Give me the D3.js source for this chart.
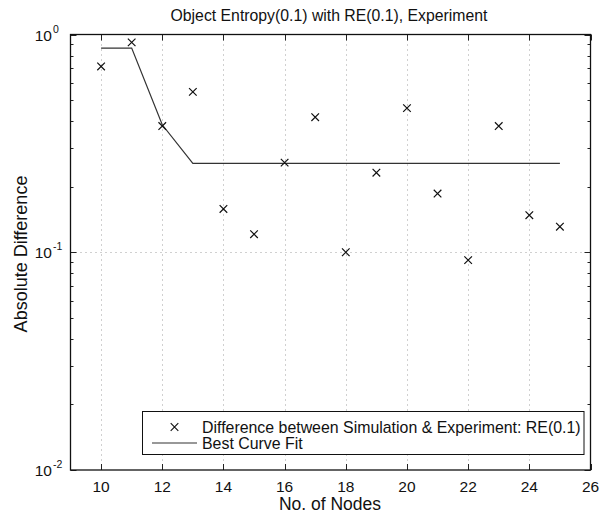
<!DOCTYPE html>
<html><head><meta charset="utf-8">
<script src="https://cdn.jsdelivr.net/npm/d3@7"></script>
<style>body{margin:0;background:#fff;} text{font-family:"Liberation Sans",Arial,sans-serif;fill:#111;}</style>
</head><body>
<svg id="c" width="612" height="514"></svg>
<script>
const nodes = [10,11,12,13,14,15,16,17,18,19,20,21,22,23,24,25];
const diffValues = [0.713,0.92,0.38,0.545,0.158,0.121,0.258,0.417,0.100,0.232,0.459,0.186,0.092,0.38,0.148,0.131];
const fitNodes = [10,11,12,13,25];
const fitValues = [0.866,0.866,0.385,0.256,0.256];
const xTicks = [10,12,14,16,18,20,22,24,26];
const yTicks = [1e-2,1e-1,1];
const yExp = ["-2","-1","0"];
const titleText = "Object Entropy(0.1) with RE(0.1), Experiment";
const legendLabels = ["Difference between Simulation & Experiment: RE(0.1)","Best Curve Fit"];

const L=70.5,R=590.5,T=34.5,B=470;
const svg=d3.select("#c");
const x=d3.scaleLinear().domain([9,26]).range([L,R]);
const y=d3.scaleLog().domain([0.01,1]).range([B,T]);

// grid
const g=svg.append("g");
g.selectAll(".gx").data(xTicks.filter(t=>t>9&&t<26)).join("line")
 .attr("x1",d=>Math.round(x(d))+0.5).attr("x2",d=>Math.round(x(d))+0.5).attr("y1",T).attr("y2",B)
 .attr("stroke","#888").attr("stroke-width",0.8).attr("stroke-dasharray","1,4");
g.selectAll(".gy").data(yTicks.filter(t=>t>0.01&&t<1)).join("line")
 .attr("y1",d=>Math.round(y(d))+0.5).attr("y2",d=>Math.round(y(d))+0.5).attr("x1",L).attr("x2",R)
 .attr("stroke","#888").attr("stroke-width",0.8).attr("stroke-dasharray","1,4");

// minor ticks
const minors=[];
[0.01,0.1].forEach(b=>{for(let k=2;k<=9;k++)minors.push(b*k);});
minors.forEach(m=>{
  const yy=Math.round(y(m))+0.5;
  svg.append("line").attr("x1",L).attr("x2",L+3).attr("y1",yy).attr("y2",yy).attr("stroke","#222");
  svg.append("line").attr("x1",R).attr("x2",R-3).attr("y1",yy).attr("y2",yy).attr("stroke","#222");
});
yTicks.forEach(t=>{
  const yy=Math.round(y(t))+0.5;
  svg.append("line").attr("x1",L).attr("x2",L+6).attr("y1",yy).attr("y2",yy).attr("stroke","#222");
  svg.append("line").attr("x1",R).attr("x2",R-6).attr("y1",yy).attr("y2",yy).attr("stroke","#222");
});
xTicks.forEach(t=>{
  const xx=Math.round(x(t))+0.5;
  svg.append("line").attr("x1",xx).attr("x2",xx).attr("y1",B).attr("y2",B-6).attr("stroke","#222");
  svg.append("line").attr("x1",xx).attr("x2",xx).attr("y1",T).attr("y2",T+6).attr("stroke","#222");
});

// frame
svg.append("rect").attr("x",L).attr("y",T).attr("width",R-L).attr("height",B-T)
 .attr("fill","none").attr("stroke","#111").attr("stroke-width",1.3);

// fit line
svg.append("path").datum(fitNodes.map((n,i)=>[n,fitValues[i]]))
 .attr("d",d3.line().x(d=>x(d[0])).y(d=>y(d[1])))
 .attr("fill","none").attr("stroke","#333").attr("stroke-width",1.2);

// markers
const s=3.8;
const mk=svg.append("g");
nodes.forEach((n,i)=>{
  const cx=x(n),cy=y(diffValues[i]);
  mk.append("path").attr("d",`M${cx-s},${cy-s}L${cx+s},${cy+s}M${cx-s},${cy+s}L${cx+s},${cy-s}`)
   .attr("stroke","#111").attr("stroke-width",1.2).attr("fill","none");
});

// x tick labels
svg.selectAll(".xl").data(xTicks).join("text")
 .attr("x",d=>x(d)).attr("y",492).attr("text-anchor","middle").attr("font-size",15.5).text(d=>d);
// y tick labels
yTicks.forEach((t,i)=>{
  svg.append("text").attr("x",52).attr("y",y(t)+6).attr("text-anchor","end").attr("font-size",15.5).text("10");
  svg.append("text").attr("x",53).attr("y",y(t)-2).attr("font-size",10.5).text(yExp[i]);
});
// axis labels
svg.append("text").attr("x",330).attr("y",510).attr("text-anchor","middle").attr("font-size",17.5).text("No. of Nodes");
svg.append("text").attr("transform","translate(27,254) rotate(-90)").attr("text-anchor","middle").attr("font-size",18).text("Absolute Difference");
svg.append("text").attr("x",329).attr("y",21).attr("text-anchor","middle").attr("font-size",15.8).text(titleText);

// legend
const lg=svg.append("g");
lg.append("rect").attr("x",142.5).attr("y",411.5).attr("width",441.5).attr("height",43).attr("fill","#fff").attr("stroke","#111").attr("stroke-width",1);
const lx=174.5, ly1=427, ly2=443;
lg.append("path").attr("d",`M${lx-s},${ly1-s}L${lx+s},${ly1+s}M${lx-s},${ly1+s}L${lx+s},${ly1-s}`).attr("stroke","#111").attr("stroke-width",1.1);
lg.append("line").attr("x1",152).attr("x2",197).attr("y1",ly2).attr("y2",ly2).attr("stroke","#333").attr("stroke-width",1.2);
lg.append("text").attr("x",202).attr("y",ly1+5.5).attr("font-size",15.9).text(legendLabels[0]);
lg.append("text").attr("x",202).attr("y",ly2+5.5).attr("font-size",15.9).text(legendLabels[1]);
</script>
</body></html>
